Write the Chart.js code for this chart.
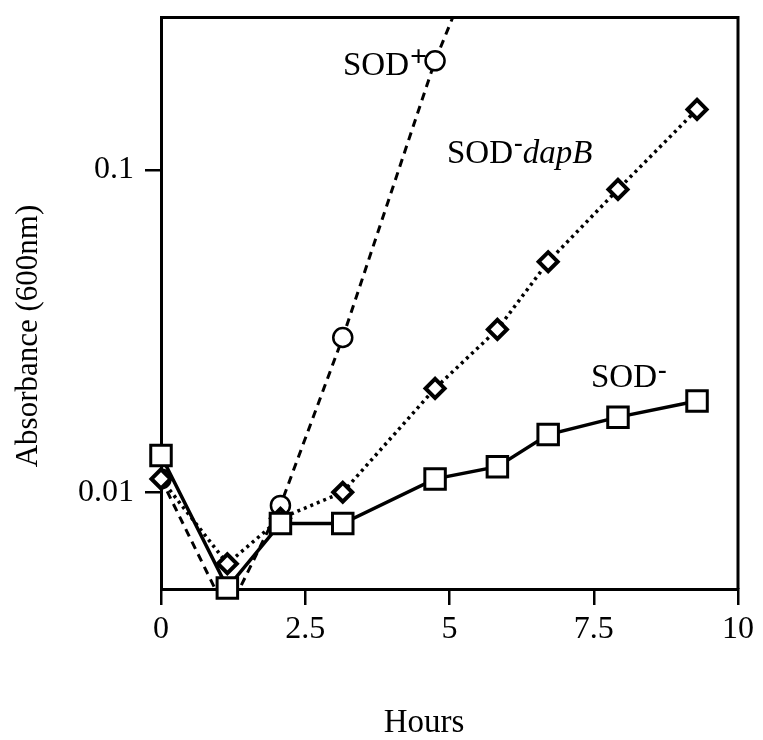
<!DOCTYPE html>
<html><head><meta charset="utf-8">
<script src="https://cdn.jsdelivr.net/npm/chart.js@4.4.1/dist/chart.umd.min.js"></script>
<style>html,body{margin:0;padding:0;background:#fff;} #wrap{width:763px;height:740px;}</style>
</head><body><div id="wrap"><canvas id="c" width="763" height="740"></canvas></div>
<script>
// ---- data ----
const hours = [0, 1.15, 2.07, 3.15, 4.75, 5.83, 6.71, 7.92, 9.29];
const sodMinus = [0.0130, 0.00505, 0.0080, 0.0080, 0.0110, 0.0120, 0.0151, 0.0171, 0.0192];
const sodDapB  = [0.0110, 0.0060, 0.0083, 0.0100, 0.0210, 0.0320, 0.0519, 0.0870, 0.154];
const sodPlusHours = [0, 1.15, 2.07, 3.15, 4.75, 5.83];
const sodPlus = [0.0110, 0.0042, 0.0091, 0.0302, 0.218, 0.65];
const xTicks = [0, 2.5, 5, 7.5, 10];
const yTicks = [0.01, 0.1];
const xTitle = 'Hours';
const yTitle = 'Absorbance (600nm)';

const pts = (xs, ys) => xs.map((x, i) => ({x: x, y: ys[i]}));
const SERIF = '"Liberation Serif", "DejaVu Serif", serif';

const framePlugin = {
  id: 'frame',
  beforeDatasetsDraw(chart) {
    const {ctx, chartArea: a} = chart;
    ctx.save();
    ctx.strokeStyle = '#000';
    ctx.lineWidth = 3;
    ctx.beginPath();
    ctx.moveTo(a.left, a.top);
    ctx.lineTo(a.right, a.top);
    ctx.lineTo(a.right, a.bottom);
    ctx.stroke();
    ctx.restore();
  },
  afterDraw(chart) {
    const ctx = chart.ctx;
    ctx.save();
    ctx.fillStyle = '#000';
    ctx.textBaseline = 'alphabetic';
    // axis titles
    ctx.font = '33px ' + SERIF;
    ctx.textAlign = 'center';
    ctx.fillText(xTitle, 424, 732);
    ctx.save();
    ctx.translate(37, 336);
    ctx.rotate(-Math.PI / 2);
    ctx.font = '31px ' + SERIF;
    ctx.fillText(yTitle, 0, 0);
    ctx.restore();
    // series labels
    ctx.textAlign = 'left';
    const lab = (x, y, main, sup, supSize, supDy, tail) => {
      ctx.font = '33px ' + SERIF;
      ctx.fillText(main, x, y);
      let w = ctx.measureText(main).width;
      ctx.font = 'bold ' + supSize + 'px ' + SERIF;
      ctx.fillText(sup, x + w + 1, y - supDy);
      w += ctx.measureText(sup).width + 1;
      if (tail) {
        ctx.font = 'italic 33px ' + SERIF;
        ctx.fillText(tail, x + w, y);
      }
    };
    lab(343, 75, 'SOD', '+', 30, 9, null);
    lab(447, 163, 'SOD', '-', 26, 12, 'dapB');
    lab(591, 387, 'SOD', '-', 26, 9, null);
    ctx.restore();
  }
};

new Chart(document.getElementById('c'), {
  type: 'line',
  data: {
    datasets: [
      {
        label: 'SOD-',
        data: pts(hours, sodMinus),
        borderColor: '#000', borderWidth: 3.5,
        pointStyle: 'rect', pointRadius: 14.5, pointBorderWidth: 3,
        pointBackgroundColor: '#fff', pointBorderColor: '#000',
        tension: 0, clip: false
      },
      {
        label: 'SOD- dapB',
        data: pts(hours, sodDapB),
        borderColor: '#000', borderWidth: 3.5, borderDash: [3, 4],
        pointStyle: 'rectRot', pointRadius: 9.5, pointBorderWidth: 4,
        pointBackgroundColor: '#fff', pointBorderColor: '#000',
        tension: 0, clip: false
      },
      {
        label: 'SOD+',
        data: pts(sodPlusHours, sodPlus),
        borderColor: '#000', borderWidth: 3, borderDash: [8, 6],
        pointStyle: 'circle', pointRadius: 9.5, pointBorderWidth: 2.5,
        pointBackgroundColor: '#fff', pointBorderColor: '#000',
        tension: 0
      }
    ]
  },
  options: {
    responsive: false,
    devicePixelRatio: 1,
    animation: false,
    layout: {padding: {top: 14, right: 25, left: 0, bottom: 0}},
    plugins: {legend: {display: false}, tooltip: {enabled: false}},
    scales: {
      x: {
        type: 'linear', min: 0, max: 10,
        afterBuildTicks: s => { s.ticks = xTicks.map(v => ({value: v})); },
        afterFit: s => { s.height = 151; s.paddingLeft = 0; s.paddingRight = 0; },
        ticks: {color: '#000', font: {family: SERIF, size: 32}, padding: 5,
                maxRotation: 0, callback: v => String(v)},
        grid: {display: true, drawOnChartArea: false, drawTicks: true, tickLength: 16,
               color: '#000', lineWidth: 2.5},
        border: {display: true, color: '#000', width: 3}
      },
      y: {
        type: 'logarithmic', min: 0.00501, max: 0.297,
        afterBuildTicks: s => { s.ticks = yTicks.map(v => ({value: v})); },
        afterFit: s => { s.width = 161; s.paddingTop = 0; s.paddingBottom = 0; },
        ticks: {color: '#000', font: {family: SERIF, size: 32}, padding: 11,
                callback: v => String(v)},
        grid: {display: true, drawOnChartArea: false, drawTicks: true, tickLength: 16,
               color: '#000', lineWidth: 2.5},
        border: {display: true, color: '#000', width: 3}
      }
    }
  },
  plugins: [framePlugin]
});
</script></body></html>
